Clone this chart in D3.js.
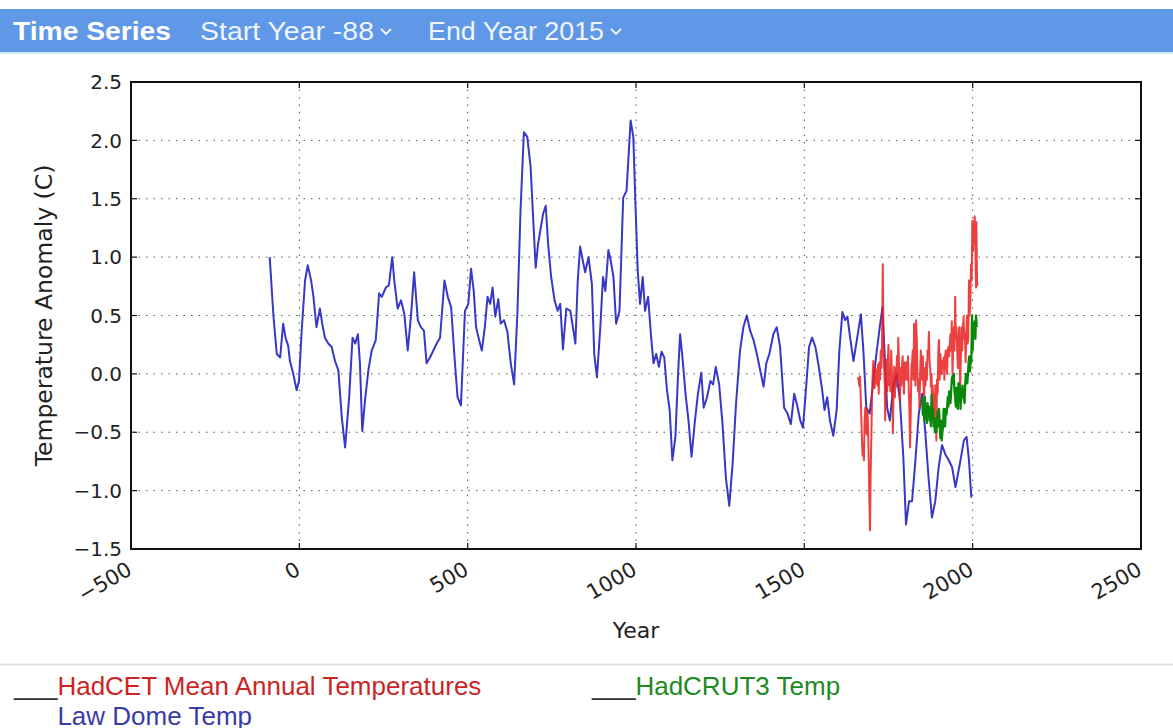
<!DOCTYPE html>
<html>
<head>
<meta charset="utf-8">
<script src="https://cdn.jsdelivr.net/npm/d3@7"></script>
<style>
  body { margin: 0; background: #fff; }
  svg { display: block; }
</style>
</head>
<body>
<script>
// Law Dome Temp
var lawYears = [-88,-77,-67,-57,-48,-41,-33,-28,-18,-8,-1,7,17,25,35,42,46,51,61,68,76,86,96,106,116,126,136,148,158,166,174,180,187,195,205,215,227,237,245,257,266,276,282,292,302,312,322,332,341,352,361,370,378,388,398,408,418,431,441,451,461,470,480,492,502,510,518,525,534,542,551,559,567,574,582,591,598,608,618,628,638,648,657,667,677,687,695,702,709,716,724,732,739,748,758,767,775,783,793,805,820,827,834,842,849,859,869,876,884,894,902,909,918,925,933,941,951,962,972,984,992,999,1005,1012,1020,1027,1036,1045,1052,1060,1068,1076,1084,1092,1100,1108,1117,1125,1131,1139,1147,1156,1165,1174,1184,1194,1201,1211,1221,1229,1237,1247,1257,1267,1277,1287,1297,1309,1319,1329,1339,1349,1359,1371,1379,1387,1396,1408,1418,1428,1440,1450,1460,1470,1478,1488,1496,1506,1514,1523,1533,1543,1553,1560,1568,1576,1586,1596,1604,1613,1621,1628,1636,1646,1656,1668,1676,1684,1694,1704,1714,1724,1732,1738,1746,1754,1764,1774,1784,1794,1802,1811,1820,1830,1840,1850,1859,1869,1879,1889,1899,1909,1919,1929,1939,1949,1962,1974,1982,1989,1996];
var lawTemps = [1.0,0.5,0.17,0.14,0.43,0.31,0.24,0.11,0.0,-0.14,-0.06,0.37,0.8,0.93,0.8,0.66,0.54,0.4,0.56,0.43,0.31,0.26,0.23,0.11,0.03,-0.37,-0.63,-0.2,0.31,0.26,0.34,0.09,-0.49,-0.23,0.03,0.2,0.29,0.69,0.66,0.74,0.76,1.0,0.8,0.56,0.63,0.51,0.2,0.51,0.87,0.46,0.4,0.37,0.09,0.14,0.2,0.26,0.31,0.8,0.66,0.57,0.14,-0.2,-0.27,0.54,0.6,0.9,0.71,0.4,0.29,0.2,0.4,0.66,0.6,0.74,0.49,0.64,0.43,0.46,0.36,0.09,-0.09,0.54,1.4,2.07,2.03,1.77,1.31,0.91,1.11,1.23,1.37,1.44,1.11,0.83,0.63,0.54,0.6,0.21,0.56,0.54,0.26,0.8,1.09,0.97,0.87,1.0,0.77,0.17,-0.03,0.4,0.83,0.71,1.06,0.97,0.83,0.43,0.54,1.51,1.57,2.17,2.03,1.4,0.89,0.6,0.83,0.54,0.66,0.31,0.09,0.17,0.06,0.19,0.14,-0.14,-0.31,-0.74,-0.54,0.0,0.34,0.11,-0.17,-0.4,-0.71,-0.43,-0.17,0.01,-0.29,-0.2,-0.06,-0.09,0.06,-0.09,-0.43,-0.89,-1.13,-0.77,-0.26,0.2,0.4,0.5,0.37,0.29,0.17,0.0,-0.11,0.09,0.17,0.34,0.4,0.23,-0.29,-0.34,-0.43,-0.17,-0.26,-0.4,-0.46,-0.09,0.23,0.31,0.23,0.06,-0.14,-0.31,-0.2,-0.4,-0.53,-0.31,0.2,0.53,0.46,0.49,0.31,0.11,0.29,0.51,0.17,-0.29,-0.34,-0.09,0.17,0.4,0.57,0.2,-0.29,-0.4,-0.11,0.0,-0.23,-0.71,-1.29,-1.09,-1.09,-0.74,-0.34,-0.17,-0.49,-0.89,-1.23,-1.09,-0.8,-0.61,-0.69,-0.74,-0.8,-0.97,-0.77,-0.57,-0.54,-0.74,-1.06];

// HadCET Mean Annual Temperatures
var cetYears = [1659,1661,1663,1665,1667,1669,1671,1673,1675,1677,1679,1681,1683,1685,1687,1689,1691,1693,1695,1697,1699,1701,1703,1705,1707,1709,1711,1713,1715,1717,1719,1721,1723,1725,1727,1729,1731,1733,1735,1737,1739,1740,1742,1744,1746,1748,1750,1752,1754,1756,1758,1760,1762,1763,1765,1767,1769,1771,1773,1775,1777,1779,1781,1783,1784,1786,1788,1790,1792,1794,1796,1798,1800,1802,1804,1806,1808,1810,1812,1814,1816,1818,1820,1822,1824,1826,1828,1830,1832,1834,1836,1838,1840,1842,1844,1846,1848,1850,1852,1854,1856,1858,1860,1862,1864,1866,1868,1870,1872,1874,1876,1878,1879,1881,1883,1885,1887,1889,1891,1892,1894,1896,1898,1900,1902,1904,1906,1908,1910,1912,1914,1916,1918,1920,1922,1924,1926,1928,1930,1932,1934,1936,1938,1940,1942,1944,1946,1948,1950,1952,1954,1956,1958,1960,1962,1963,1965,1967,1969,1971,1973,1975,1977,1979,1981,1983,1985,1987,1989,1991,1993,1995,1997,1999,2001,2003,2005,2006,2008,2010,2011,2013,2014];
var cetTemps = [-0.03,-0.05,-0.1,-0.02,-0.15,-0.35,-0.55,-0.7,-0.6,-0.74,-0.4,-0.29,-0.45,-0.52,-0.3,-0.42,-0.7,-1.05,-1.34,-0.85,-0.55,-0.2,0.0,0.11,-0.05,-0.12,0.05,-0.08,0.03,-0.1,0.08,-0.17,0.1,-0.05,0.2,0.05,0.3,0.94,0.25,0.06,-0.1,-0.4,-0.05,0.12,-0.15,0.11,0.25,-0.1,0.05,-0.15,0.2,0.0,-0.25,-0.51,-0.1,0.06,-0.2,0.05,-0.11,0.15,-0.05,0.31,0.1,-0.1,-0.23,0.05,-0.1,0.06,0.15,-0.05,-0.17,0.1,-0.05,0.0,0.1,-0.05,0.15,-0.11,-0.3,-0.63,-0.35,0.05,0.11,0.2,-0.05,0.43,0.1,-0.1,0.46,0.3,0.0,-0.15,-0.05,-0.29,0.0,0.2,0.06,-0.05,0.15,-0.11,-0.2,0.05,-0.1,0.1,-0.05,0.2,0.15,0.36,0.1,0.05,-0.11,0.0,-0.35,-0.1,-0.2,-0.34,-0.4,-0.1,-0.3,-0.57,-0.05,-0.17,0.2,0.29,-0.05,0.17,0.1,0.0,0.11,0.05,0.14,-0.05,0.15,0.2,0.1,0.0,0.2,0.23,0.15,0.25,0.34,0.2,0.45,0.0,0.2,0.4,0.2,0.66,0.3,0.4,0.2,0.05,0.29,0.4,0.0,-0.15,0.15,0.4,0.2,0.4,0.49,0.3,0.35,0.1,0.3,0.5,0.26,0.3,0.8,0.5,0.6,0.94,0.8,1.31,1.05,1.2,1.31,1.35,1.1,0.74,1.3,0.8,0.75];

// HadCRUT3 Temp
var crutYears = [1850,1852,1854,1856,1858,1860,1862,1864,1866,1868,1870,1872,1874,1876,1878,1880,1882,1884,1886,1888,1890,1892,1894,1896,1898,1900,1902,1904,1906,1908,1910,1912,1914,1916,1918,1920,1922,1924,1926,1928,1930,1932,1934,1936,1938,1940,1942,1944,1946,1948,1950,1952,1954,1956,1958,1960,1962,1964,1966,1968,1970,1972,1974,1976,1978,1980,1982,1984,1986,1988,1990,1992,1994,1996,1998,2000,2002,2004,2006,2008,2010,2012];
var crutTemps = [-0.2,-0.35,-0.25,-0.4,-0.2,-0.38,-0.3,-0.42,-0.25,-0.36,-0.28,-0.4,-0.3,-0.45,-0.18,-0.35,-0.3,-0.45,-0.38,-0.5,-0.4,-0.5,-0.42,-0.32,-0.45,-0.3,-0.42,-0.55,-0.4,-0.57,-0.5,-0.45,-0.3,-0.42,-0.45,-0.3,-0.35,-0.3,-0.2,-0.28,-0.15,-0.2,-0.25,-0.15,-0.05,-0.02,-0.08,0.0,-0.15,-0.2,-0.28,-0.12,-0.25,-0.3,-0.08,-0.12,-0.1,-0.3,-0.15,-0.18,-0.1,-0.2,-0.22,-0.25,-0.08,0.0,-0.05,-0.08,0.0,0.1,0.15,0.02,0.1,0.1,0.5,0.2,0.42,0.4,0.45,0.3,0.5,0.4];

var xTicks = [-500, 0, 500, 1000, 1500, 2000, 2500];
var yTicks = [-1.5, -1.0, -0.5, 0.0, 0.5, 1.0, 1.5, 2.0, 2.5];
var legendNames = ["HadCET Mean Annual Temperatures", "HadCRUT3 Temp", "Law Dome Temp"];
var legendColors = ["#cc2424", "#1d8a1d", "#3b3ba6"];

var W = 1173, H = 728;
var svg = d3.select('body').append('svg').attr('width', W).attr('height', H);

// header bar
svg.append('rect').attr('x', 0).attr('y', 9).attr('width', W).attr('height', 43).attr('fill', '#5f98e6');
svg.append('rect').attr('x', 0).attr('y', 52).attr('width', W).attr('height', 2).attr('fill', '#d3e6f8');
var hdrFont = '"Liberation Sans", Arial, sans-serif';
svg.append('text').attr('x', 13).attr('y', 40).attr('fill', '#fff').attr('font-family', hdrFont)
   .attr('font-size', 25).attr('font-weight', 'bold')
   .attr('textLength', 158).attr('lengthAdjust', 'spacingAndGlyphs').text('Time Series');
var menus = [{x: 200, w: 174, t: 'Start Year -88'}, {x: 428, w: 176, t: 'End Year 2015'}];
menus.forEach(function(m) {
  svg.append('text').attr('x', m.x).attr('y', 40).attr('fill', '#f0f5ff')
     .attr('font-family', hdrFont).attr('font-size', 25)
     .attr('textLength', m.w).attr('lengthAdjust', 'spacingAndGlyphs').text(m.t);
  var cx = m.x + m.w + 12;
  svg.append('path').attr('d', 'M' + (cx - 5) + ',29 L' + cx + ',34 L' + (cx + 5) + ',29')
     .attr('fill', 'none').attr('stroke', '#f0f5ff').attr('stroke-width', 1.8);
});

// plot
var pL = 131, pR = 1141, pT = 82, pB = 549;
var x = d3.scaleLinear().domain([-500, 2500]).range([pL, pR]);
var y = d3.scaleLinear().domain([-1.5, 2.5]).range([pB, pT]);
var tickFont = '"DejaVu Sans", sans-serif';
var fmt = function(v) { return d3.format('.1f')(v).replace('-', '\u2212'); };

var grid = svg.append('g');
grid.selectAll('line.gx').data(xTicks).enter().append('line')
  .attr('x1', d => x(d)).attr('x2', d => x(d)).attr('y1', pT).attr('y2', pB)
  .attr('stroke', '#555').attr('stroke-width', 1).attr('stroke-dasharray', '1.5,6');
grid.selectAll('line.gy').data(yTicks).enter().append('line')
  .attr('y1', d => y(d)).attr('y2', d => y(d)).attr('x1', pL).attr('x2', pR)
  .attr('stroke', '#555').attr('stroke-width', 1).attr('stroke-dasharray', '1.5,6');

var line = d3.line().x(d => x(d[0])).y(d => y(d[1]));
var law = lawYears.map((d, i) => [d, lawTemps[i]]);
var cet = cetYears.map((d, i) => [d, cetTemps[i]]);
var crut = crutYears.map((d, i) => [d, crutTemps[i]]);

svg.append('path').datum(law).attr('d', line).attr('fill', 'none')
   .attr('stroke', '#3838c8').attr('stroke-width', 2).attr('stroke-linejoin', 'round');
svg.append('path').datum(cet).attr('d', line).attr('fill', 'none')
   .attr('stroke', '#ea1e1e').attr('stroke-width', 2).attr('stroke-opacity', 0.85).attr('stroke-linejoin', 'round');
svg.append('path').datum(crut).attr('d', line).attr('fill', 'none')
   .attr('stroke', '#0a880a').attr('stroke-width', 2.3).attr('stroke-linejoin', 'round');

// frame and inward ticks
svg.append('rect').attr('x', pL).attr('y', pT).attr('width', pR - pL).attr('height', pB - pT)
   .attr('fill', 'none').attr('stroke', '#111').attr('stroke-width', 2);
var tk = svg.append('g').attr('stroke', '#111').attr('stroke-width', 1.2);
xTicks.forEach(function(d) {
  tk.append('line').attr('x1', x(d)).attr('x2', x(d)).attr('y1', pB).attr('y2', pB - 6);
  tk.append('line').attr('x1', x(d)).attr('x2', x(d)).attr('y1', pT).attr('y2', pT + 6);
});
yTicks.forEach(function(d) {
  tk.append('line').attr('y1', y(d)).attr('y2', y(d)).attr('x1', pL).attr('x2', pL + 6);
  tk.append('line').attr('y1', y(d)).attr('y2', y(d)).attr('x1', pR).attr('x2', pR - 6);
});

svg.selectAll('text.ylab').data(yTicks).enter().append('text')
  .attr('class', 'ylab').attr('x', pL - 9).attr('y', d => y(d)).attr('dy', '0.36em')
  .attr('text-anchor', 'end').attr('font-family', tickFont).attr('font-size', 20).attr('fill', '#222')
  .text(fmt);
svg.selectAll('text.xlab').data(xTicks).enter().append('text')
  .attr('class', 'xlab')
  .attr('transform', d => 'translate(' + (x(d) - 5.5) + ',' + (pB + 11) + ') rotate(-30)')
  .attr('dy', '0.75em').attr('text-anchor', 'end').attr('font-family', tickFont).attr('font-size', 21)
  .attr('fill', '#222').text(d => String(d).replace('-', '\u2212'));

svg.append('text').attr('transform', 'translate(52,' + ((pT + pB) / 2) + ') rotate(-90)')
  .attr('text-anchor', 'middle').attr('font-family', tickFont).attr('font-size', 23.5).attr('fill', '#222')
  .text('Temperature Anomaly (C)');
svg.append('text').attr('x', (pL + pR) / 2).attr('y', 638).attr('text-anchor', 'middle')
  .attr('font-family', tickFont).attr('font-size', 22).attr('fill', '#222').text('Year');

// legend
svg.append('line').attr('x1', 0).attr('x2', W).attr('y1', 664.5).attr('y2', 664.5)
   .attr('stroke', '#e2e2e2').attr('stroke-width', 2);
var legendPos = [[14, 695], [592, 695], [14, 725]];
legendNames.forEach(function(n, i) {
  var t = svg.append('text').attr('x', legendPos[i][0]).attr('y', legendPos[i][1])
    .attr('font-family', hdrFont).attr('font-size', 26);
  t.append('tspan').attr('fill', '#333').text('___');
  t.append('tspan').attr('fill', legendColors[i]).text(n);
});
</script>
</body>
</html>
